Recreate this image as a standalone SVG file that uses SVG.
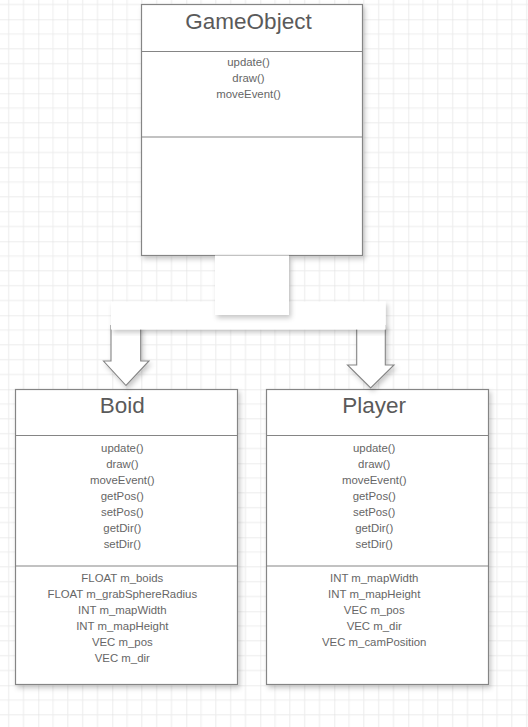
<svg xmlns="http://www.w3.org/2000/svg" width="528" height="727" viewBox="0 0 528 727">
<style>
.box{fill:#fff;stroke:#858585;stroke-width:1.2}
.div{stroke:#858585;stroke-width:1.2}
.title{font-family:"Liberation Sans",Arial,sans-serif;font-size:22.5px;fill:#5a5a5a;text-anchor:middle}
.item{font-family:"Liberation Sans",Arial,sans-serif;font-size:11.4px;fill:#666;text-anchor:middle}
.conn{fill:#fff;stroke:none}
.arrow{fill:#fff;stroke:#858585;stroke-width:1.1}
</style>
<defs>
<pattern id="grid" width="74" height="74" patternUnits="userSpaceOnUse" x="38.3" y="19.3">
<path d="M14.8 0V74M29.6 0V74M44.4 0V74M59.2 0V74M0 14.8H74M0 29.6H74M0 44.4H74M0 59.2H74" stroke="#ececec" stroke-width="1" fill="none"/>
<path d="M0 0V74M0 0H74" stroke="#dcdcdc" stroke-width="1" fill="none"/>
</pattern>
<filter id="sh" x="-10%" y="-10%" width="130%" height="130%">
<feDropShadow dx="2" dy="3" stdDeviation="2.5" flood-color="#000" flood-opacity="0.22"/>
</filter>
</defs>
<rect x="0" y="0" width="528" height="727" fill="#fff"/>
<rect x="0" y="0" width="528" height="727" fill="url(#grid)"/>

<g id="GameObject">
<rect class="box" x="141.5" y="4.5" width="221" height="251" filter="url(#sh)"/>
<line class="div" x1="141.5" y1="51.5" x2="362.5" y2="51.5"/>
<line class="div" x1="141.5" y1="137" x2="362.5" y2="137"/>
<text class="title" x="248.5" y="28.5">GameObject</text>
<text class="item" x="248.5" y="66.3">update()</text>
<text class="item" x="248.5" y="82.3">draw()</text>
<text class="item" x="248.5" y="98.3">moveEvent()</text>
</g>

<g id="Boid">
<rect class="box" x="15.5" y="389.5" width="222" height="295" filter="url(#sh)"/>
<line class="div" x1="15.5" y1="435.5" x2="237.5" y2="435.5"/>
<line class="div" x1="15.5" y1="566" x2="237.5" y2="566"/>
<text class="title" x="122.3" y="413.3">Boid</text>
<text class="item" x="122.3" y="451.7">update()</text>
<text class="item" x="122.3" y="467.8">draw()</text>
<text class="item" x="122.3" y="483.9">moveEvent()</text>
<text class="item" x="122.3" y="500">getPos()</text>
<text class="item" x="122.3" y="516.1">setPos()</text>
<text class="item" x="122.3" y="532.2">getDir()</text>
<text class="item" x="122.3" y="548.3">setDir()</text>
<text class="item" x="122.3" y="581.5">FLOAT m_boids</text>
<text class="item" x="122.3" y="598">FLOAT m_grabSphereRadius</text>
<text class="item" x="122.3" y="614">INT m_mapWidth</text>
<text class="item" x="122.3" y="630">INT m_mapHeight</text>
<text class="item" x="122.3" y="646">VEC m_pos</text>
<text class="item" x="122.3" y="662">VEC m_dir</text>
</g>

<g id="Player">
<rect class="box" x="266.5" y="389.5" width="222" height="295" filter="url(#sh)"/>
<line class="div" x1="266.5" y1="435.5" x2="488.5" y2="435.5"/>
<line class="div" x1="266.5" y1="566" x2="488.5" y2="566"/>
<text class="title" x="374.2" y="413.3">Player</text>
<text class="item" x="374.2" y="451.7">update()</text>
<text class="item" x="374.2" y="467.8">draw()</text>
<text class="item" x="374.2" y="483.9">moveEvent()</text>
<text class="item" x="374.2" y="500">getPos()</text>
<text class="item" x="374.2" y="516.1">setPos()</text>
<text class="item" x="374.2" y="532.2">getDir()</text>
<text class="item" x="374.2" y="548.3">setDir()</text>
<text class="item" x="374.2" y="581.5">INT m_mapWidth</text>
<text class="item" x="374.2" y="598">INT m_mapHeight</text>
<text class="item" x="374.2" y="614">VEC m_pos</text>
<text class="item" x="374.2" y="630">VEC m_dir</text>
<text class="item" x="374.2" y="646">VEC m_camPosition</text>
</g>

<g id="connectors">
<path class="arrow" filter="url(#sh)" d="M111 325V361H103.5L126 385.5L149 361H140.7V325"/>
<path class="arrow" filter="url(#sh)" d="M356.7 325V365H347.5L370.7 388L394 365H385.3V325"/>
<rect class="conn" x="111" y="301.5" width="274.7" height="28" filter="url(#sh)"/>
<rect class="conn" x="215" y="255.5" width="74" height="59.5" filter="url(#sh)"/>
</g>
</svg>
